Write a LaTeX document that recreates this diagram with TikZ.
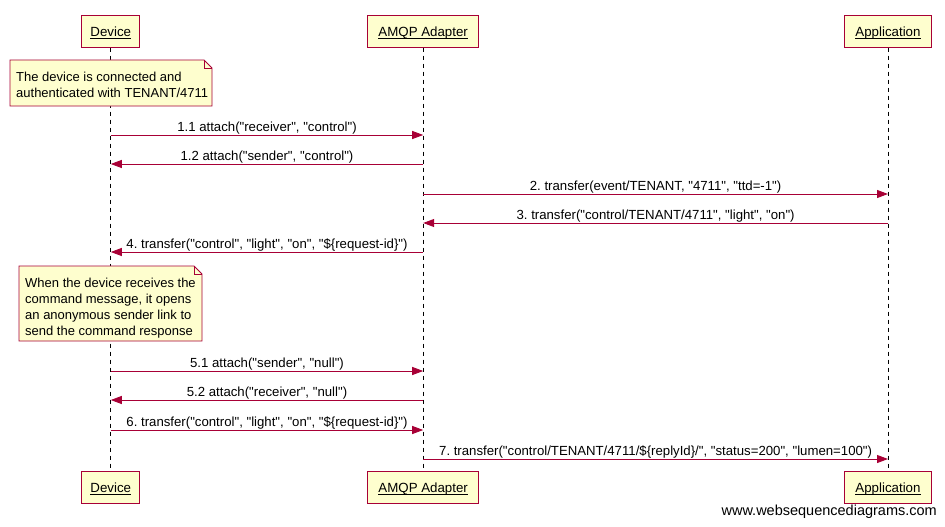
\documentclass[tikz,border=0pt]{standalone}
\usepackage{fontspec}
\setmainfont{Liberation Sans}[Ligatures=TeXOff]
\usetikzlibrary{arrows.meta}
\definecolor{seqred}{HTML}{A80036}
\definecolor{seqfill}{HTML}{FEFECE}
\newcommand{\uline}[1]{\setbox0\hbox{#1}\rlap{\rule[-2.2pt]{\wd0}{0.8pt}}\box0}
\tikzset{
  participant/.style={draw=seqred, fill=seqfill, line width=0.9pt,
    minimum height=31.5pt, inner xsep=4pt, inner ysep=0pt,
    text height=9.5pt, text depth=0pt,
    font=\fontsize{13.3}{15}\selectfont},
  lifeline/.style={black, line width=0.8pt, dash pattern=on 4pt off 4pt},
  msg/.style={seqred, line width=0.9pt, -{Triangle[length=11pt,width=8pt]}},
  msglabel/.style={black, font=\fontsize{13.2}{15}\selectfont, inner sep=0pt,
    anchor=base, yshift=4pt, midway},
  notebox/.style={draw=seqred, line width=0.9pt},
  notetext/.style={align=left, anchor=north west, inner sep=0pt,
    font=\fontsize{13}{16}\selectfont}
}
\newcommand{\notefold}[4]{%
  % dog-eared note from (#1,#2) to (#3,#4)
  \fill[seqfill] (#1,#2) -- (#3-8,#2) -- (#3,#2+8) -- (#3,#4) -- (#1,#4) -- cycle;
  \draw[notebox] (#1,#2) -- (#3-8,#2) -- (#3,#2+8) -- (#3,#4) -- (#1,#4) -- cycle;
  \draw[seqred, line width=0.6pt] (#3-8,#2) -- (#3-8,#2+8) -- (#3,#2+8);
}
\begin{document}
\frenchspacing
\begin{tikzpicture}[x=1pt, y=-1pt]
\useasboundingbox[fill=white] (0,0) rectangle (945,527);

% participants, top and bottom
\node[participant, minimum width=58pt]  (dev)   at (110.8,31.5) {\uline{Device}};
\node[participant, minimum width=111pt] (amqp)  at (423.2,31.5) {\uline{AMQP Adapter}};
\node[participant, minimum width=87pt]  (app)   at (888,31.5) {\uline{Application}};
\node[participant, minimum width=58pt]  (devb)  at (110.8,487.5) {\uline{Device}};
\node[participant, minimum width=111pt] (amqpb) at (423.2,487.5) {\uline{AMQP Adapter}};
\node[participant, minimum width=87pt]  (appb)  at (888,487.5) {\uline{Application}};

% lifelines
\draw[lifeline] (dev.south) -- (devb.north);
\draw[lifeline] (amqp.south) -- (amqpb.north);
\draw[lifeline] (app.south) -- (appb.north);

% notes on the device
\notefold{10}{60}{212}{106}
\node[notetext] (note1) at (16,71.5) {The device is connected and\\authenticated with TENANT/4711};
\notefold{19}{266}{202}{341}
\node[notetext] (note2) at (25,278) {When the device receives the\\command message, it opens\\an anonymous sender link to\\send the command response};

% messages
\draw[msg] (dev |- 0,135) -- (amqp |- 0,135)
  node[msglabel] (m11) {1.1 attach("receiver", "control")};
\draw[msg] (amqp |- 0,164) -- (dev |- 0,164)
  node[msglabel] (m12) {1.2 attach("sender", "control")};
\draw[msg] (amqp |- 0,194) -- (app |- 0,194)
  node[msglabel] (m2) {2. transfer(event/TENANT, "4711", "ttd=-1")};
\draw[msg] (app |- 0,223) -- (amqp |- 0,223)
  node[msglabel] (m3) {3. transfer("control/TENANT/4711", "light", "on")};
\draw[msg] (amqp |- 0,252) -- (dev |- 0,252)
  node[msglabel] (m4) {4. transfer("control", "light", "on", "\$\{request-id\}")};
\draw[msg] (dev |- 0,371) -- (amqp |- 0,371)
  node[msglabel] (m51) {5.1 attach("sender", "null")};
\draw[msg] (amqp |- 0,400) -- (dev |- 0,400)
  node[msglabel] (m52) {5.2 attach("receiver", "null")};
\draw[msg] (dev |- 0,430) -- (amqp |- 0,430)
  node[msglabel] (m6) {6. transfer("control", "light", "on", "\$\{request-id\}")};
\draw[msg] (amqp |- 0,459) -- (app |- 0,459)
  node[msglabel] (m7) {7. transfer("control/TENANT/4711/\$\{replyId\}/", "status=200", "lumen=100")};

% footer
\node[anchor=east, inner sep=0pt, font=\fontsize{14.5}{16}\selectfont] (wsd) at (937,512) {www.websequencediagrams.com};
\end{tikzpicture}
\end{document}
